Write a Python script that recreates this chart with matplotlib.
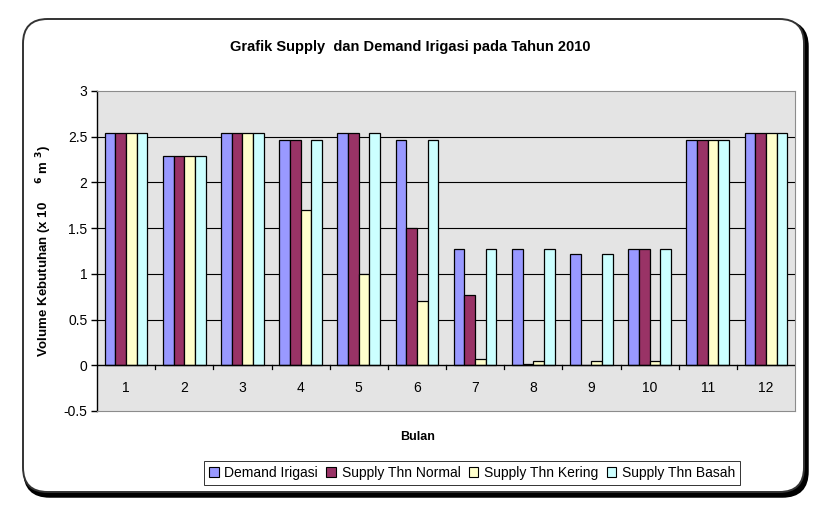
import numpy as np
import matplotlib
matplotlib.use('Agg')
import matplotlib.pyplot as plt
from matplotlib.patches import FancyBboxPatch, Patch

# data
months = ['1', '2', '3', '4', '5', '6', '7', '8', '9', '10', '11', '12']
demand = [2.54, 2.29, 2.54, 2.46, 2.54, 2.46, 1.27, 1.27, 1.22, 1.27, 2.46, 2.54]
normal = [2.54, 2.29, 2.54, 2.46, 2.54, 1.50, 0.77, 0.015, 0.0, 1.27, 2.46, 2.54]
kering = [2.54, 2.29, 2.54, 1.70, 1.00, 0.70, 0.07, 0.045, 0.045, 0.045, 2.46, 2.54]
basah = [2.54, 2.29, 2.54, 2.46, 2.54, 2.46, 1.27, 1.27, 1.22, 1.27, 2.46, 2.54]

series = [('Demand Irigasi', demand, '#9999FF'),
          ('Supply Thn Normal', normal, '#993366'),
          ('Supply Thn Kering', kering, '#FFFFCC'),
          ('Supply Thn Basah', basah, '#CCFFFF')]

plt.rcParams['font.family'] = ['Liberation Sans', 'DejaVu Sans']

fig = plt.figure(figsize=(8.21, 5.20), dpi=100)
W, H = 821, 520

# outer rounded frame with shadow
shadow = FancyBboxPatch((25 / W, (H - 496) / H), 782 / W, 474 / H,
                        boxstyle='round,pad=0,rounding_size=0.03',
                        transform=fig.transFigure, facecolor='black',
                        edgecolor='black', lw=2.5, mutation_aspect=W / H,
                        zorder=-2)
fig.patches.append(shadow)
frame = FancyBboxPatch((23 / W, (H - 492) / H), 781 / W, 473 / H,
                       boxstyle='round,pad=0,rounding_size=0.03',
                       transform=fig.transFigure, facecolor='white',
                       edgecolor='#333333', lw=1.4, mutation_aspect=W / H,
                       zorder=-1)
fig.patches.append(frame)

ax = fig.add_axes([97 / W, (H - 411) / H, 698 / W, 320 / H])
ax.set_facecolor('#e4e4e4')

x = np.arange(len(months))
bw = 0.183
for i, (name, vals, col) in enumerate(series):
    ax.bar(x + (i - 1.5) * bw, vals, bw, color=col, edgecolor='black',
           linewidth=0.9, label=name, zorder=3)

ax.set_xlim(-0.5, len(months) - 0.5)
ax.set_ylim(-0.5, 3)
ax.set_yticks(np.arange(-0.5, 3.01, 0.5))
ax.set_yticklabels(['-0.5', '0', '0.5', '1', '1.5', '2', '2.5', '3'], fontsize=10)
for yv in np.arange(0.5, 2.51, 0.5):
    ax.axhline(yv, color='black', lw=0.8, zorder=1)
ax.axhline(0, color='black', lw=1.0, zorder=4)

# month labels and separator ticks on zero line
ax.set_xticks([])
for xi, m in zip(x, months):
    ax.text(xi, -0.25, m, ha='center', va='center', fontsize=10)
for xs in np.arange(0.5, len(months) - 1, 1):
    ax.plot([xs, xs], [0, -0.04], color='black', lw=0.9, zorder=4)

for s in ['top', 'right', 'bottom']:
    ax.spines[s].set_color('#8c8c8c')
    ax.spines[s].set_linewidth(0.8)
ax.spines['left'].set_color('black')
ax.spines['left'].set_linewidth(1.0)
ax.tick_params(axis='y', length=4, width=1, pad=3)

fig.text(410 / W, 1 - 47 / H, 'Grafik Supply  dan Demand Irigasi pada Tahun 2010',
         ha='center', va='center', fontsize=10.5, fontweight='bold')
fig.text(418 / W, 1 - 437 / H, 'Bulan', ha='center', va='center',
         fontsize=9, fontweight='bold')
fig.text(44 / W, 1 - 251 / H, r'Volume Kebutuhan (x 10     $^{\mathbf{6}}$ m $^{\mathbf{3}}$)',
         ha='center', va='center', rotation=90, fontsize=9.5, fontweight='bold')

handles = [Patch(facecolor=c, edgecolor='black', lw=0.8) for _, _, c in series]
leg = fig.legend(handles, [n for n, _, _ in series], loc='center',
                 bbox_to_anchor=(472 / W, 1 - 473 / H), ncol=4, fontsize=10,
                 frameon=True, fancybox=False, edgecolor='black',
                 handlelength=0.7, handleheight=0.7, handletextpad=0.4,
                 columnspacing=0.6, borderpad=0.35)
leg.get_frame().set_linewidth(0.7)

fig.savefig('out.png', dpi=100)
